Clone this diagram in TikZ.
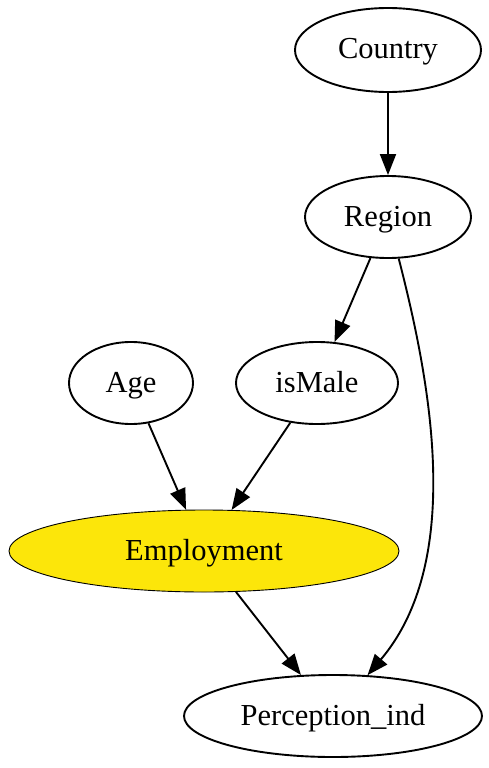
\documentclass[tikz,border=0pt]{standalone}
\usepackage{fontspec}
\setmainfont{Liberation Serif}
\usetikzlibrary{shapes.geometric,arrows.meta}
\definecolor{empyellow}{RGB}{252,230,10}
\begin{document}
\begin{tikzpicture}[x=1pt,y=-1pt,
  vnode/.style={ellipse,draw,line width=1.9pt,inner sep=0pt,text height=21pt,text depth=3pt,font=\fontsize{30.5}{36}\selectfont},
  edge/.style={line width=1.9pt,-{Triangle[length=21pt,width=16pt]}}]
\useasboundingbox (0,0) rectangle (489,768);
\node[vnode,minimum width=186pt,minimum height=84pt] (C) at (388,50) {Country};
\node[vnode,minimum width=166pt,minimum height=82pt] (R) at (388,217) {Region};
\node[vnode,minimum width=124pt,minimum height=82pt] (A) at (131,383) {Age};
\node[vnode,minimum width=162pt,minimum height=82pt] (M) at (317,383) {isMale};
\node[vnode,line width=0.9pt,fill=empyellow,minimum width=390pt,minimum height=82pt] (E) at (204,551) {Employment};
\node[vnode,minimum width=298pt,minimum height=82pt] (P) at (333,716) {Perception\_ind};
\draw[edge] (C) -- (R);
\draw[edge] (R) -- (M);
\draw[edge] (A) -- (E);
\draw[edge] (M) -- (E);
\draw[edge] (E) -- (P);
\draw[edge] (R) .. controls (430,380) and (465,560) .. (P);
\end{tikzpicture}
\end{document}
